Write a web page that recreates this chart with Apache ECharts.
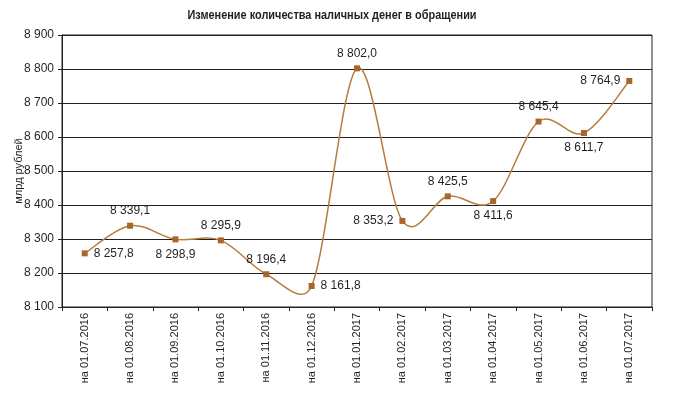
<!DOCTYPE html>
<html>
<head>
<meta charset="utf-8">
<script src="https://cdn.jsdelivr.net/npm/echarts@6/dist/echarts.min.js"></script>
<style>
    html, body { margin: 0; padding: 0; background: #fff; }
    #chart { width: 677px; height: 407px; }
</style>
</head>
<body>
<div id="chart"></div>
<script>
// данные
var dates = ['на 01.07.2016', 'на 01.08.2016', 'на 01.09.2016', 'на 01.10.2016', 'на 01.11.2016', 'на 01.12.2016',
    'на 01.01.2017', 'на 01.02.2017', 'на 01.03.2017', 'на 01.04.2017', 'на 01.05.2017', 'на 01.06.2017', 'на 01.07.2017'];
var cash = [8257.8, 8339.1, 8298.9, 8295.9, 8196.4, 8161.8, 8802.0, 8353.2, 8425.5, 8411.6, 8645.4, 8611.7, 8764.9];
var labelPos = ['right', 'top', 'bottom', 'top', 'top', 'right', 'top', 'left', 'top', 'bottom', 'top', 'bottom', 'left'];
var yTicks = [8100, 8200, 8300, 8400, 8500, 8600, 8700, 8800, 8900];

// 8 257,8
function fmt(v, dec) {
    var s = v.toFixed(dec).split('.');
    var int = s[0].replace(/\B(?=(\d{3})+(?!\d))/g, ' ');
    return dec ? int + ',' + s[1] : int;
}

function dist(a, b) {
    return Math.sqrt((a[0] - b[0]) * (a[0] - b[0]) + (a[1] - b[1]) * (a[1] - b[1]));
}

// сглаживание как в Excel: касательная 1/6, но не длиннее половины отрезка
function renderCurve(params, api) {
    if (params.dataIndex !== 0) return null;
    var pts = cash.map(function (v, i) { return api.coord([i, v]); });
    var n = pts.length;
    var children = [];
    for (var i = 0; i < n - 1; i++) {
        var p0 = pts[i > 0 ? i - 1 : i], p1 = pts[i], p2 = pts[i + 1], p3 = pts[i + 2 < n ? i + 2 : i + 1];
        var d12 = dist(p1, p2);
        var d02 = dist(p0, p2), d13 = dist(p1, p3);
        var f0 = d02 / 6 < d12 / 2 ? 1 / 6 : d12 / (2 * d02);
        var f3 = d13 / 6 < d12 / 2 ? 1 / 6 : d12 / (2 * d13);
        children.push({
            type: 'bezierCurve',
            shape: {
                x1: p1[0], y1: p1[1],
                cpx1: p1[0] + f0 * (p2[0] - p0[0]), cpy1: p1[1] + f0 * (p2[1] - p0[1]),
                cpx2: p2[0] - f3 * (p3[0] - p1[0]), cpy2: p2[1] - f3 * (p3[1] - p1[1]),
                x2: p2[0], y2: p2[1]
            },
            style: { stroke: '#b57c3c', lineWidth: 1.5, fill: null }
        });
    }
    return { type: 'group', children: children };
}

var myChart = echarts.init(document.getElementById('chart'));

var points = cash.map(function (v, i) {
    return { value: v, label: { position: labelPos[i] } };
});

var option = {
    animation: false,
    graphic: [
        // заголовок узким начертанием — сжимаем по горизонтали
        {
            type: 'text',
            x: 332,
            y: 15,
            scaleX: 0.84,
            style: {
                text: 'Изменение количества наличных денег в обращении',
                align: 'center',
                verticalAlign: 'middle',
                font: 'bold 13px "Liberation Sans", Arial, sans-serif',
                fill: '#231f20'
            }
        },
        // подпись оси Y
        {
            type: 'text',
            x: 19,
            y: 171,
            rotation: Math.PI / 2,
            style: {
                text: 'млрд рублей',
                align: 'center',
                verticalAlign: 'middle',
                font: '11px "Liberation Sans", Arial, sans-serif',
                fill: '#231f20'
            }
        }
    ],
    grid: {
        left: 62,
        right: 25,
        top: 35,
        bottom: 100,
        show: true,
        borderColor: '#231f20',
        borderWidth: 1
    },
    xAxis: {
        type: 'category',
        data: dates,
        boundaryGap: true,
        axisLine: { lineStyle: { color: '#231f20', width: 1 } },
        axisTick: { show: true, length: 4, lineStyle: { color: '#231f20' } },
        axisLabel: {
            rotate: 90,
            fontFamily: '"Liberation Sans", Arial, sans-serif',
            fontSize: 11,
            color: '#231f20',
            margin: 6
        }
    },
    yAxis: {
        type: 'value',
        min: yTicks[0],
        max: yTicks[yTicks.length - 1],
        interval: 100,
        axisLine: { show: true, lineStyle: { color: '#231f20', width: 1 } },
        axisTick: { show: true, length: 4, lineStyle: { color: '#231f20' } },
        splitLine: { lineStyle: { color: '#231f20', width: 1 } },
        axisLabel: {
            fontFamily: '"Liberation Sans", Arial, sans-serif',
            fontSize: 12,
            color: '#231f20',
            margin: 8,
            formatter: function (v) { return fmt(v, 0); }
        }
    },
    series: [
        {
            name: 'кривая',
            type: 'custom',
            z: 1,
            renderItem: renderCurve,
            data: cash.map(function (v, i) { return [i, v]; }),
            encode: { x: 0, y: 1 },
            silent: true
        },
        {
            name: 'Наличные деньги',
            type: 'line',
            z: 2,
            data: points,
            symbol: 'rect',
            symbolSize: 6,
            itemStyle: { color: '#a8662a' },
            lineStyle: { width: 0, opacity: 0 },
            label: {
                show: true,
                distance: 6,
                fontFamily: '"Liberation Sans", Arial, sans-serif',
                fontSize: 12,
                color: '#231f20',
                formatter: function (p) { return fmt(p.value, 1); }
            }
        }
    ]
};
myChart.setOption(option);
</script>
</body>
</html>
